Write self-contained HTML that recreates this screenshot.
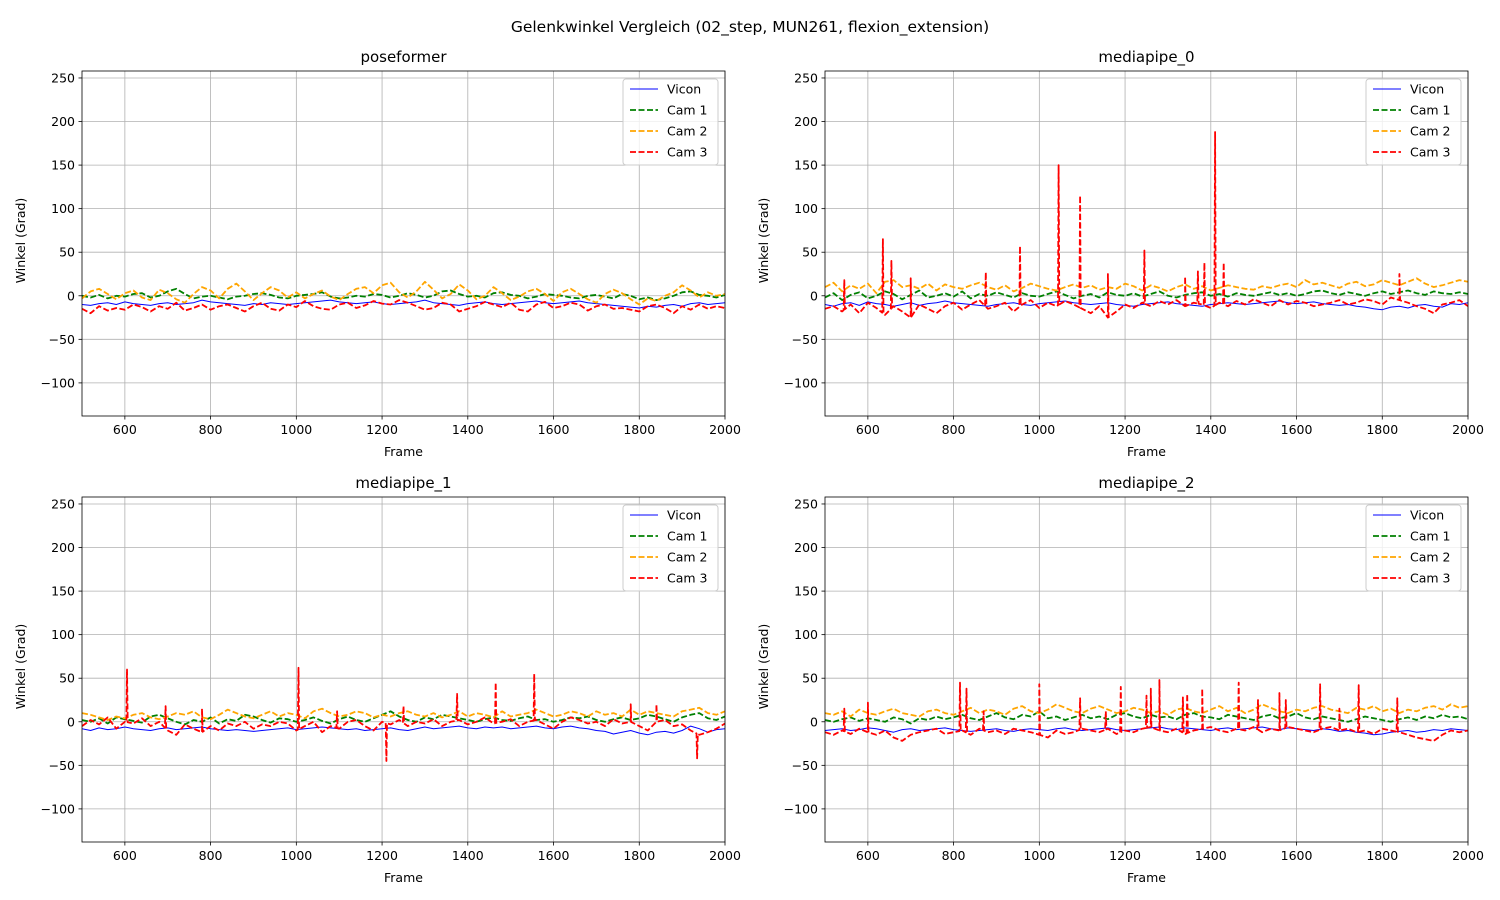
<!DOCTYPE html>
<html><head><meta charset="utf-8">
<style>
body{margin:0;background:#fff;}
svg{display:block;font-family:"DejaVu Sans","Liberation Sans",sans-serif;}
</style></head>
<body>
<svg id="fig" width="1500" height="900" viewBox="0 0 1500 900">
<rect width="1500" height="900" fill="#fff"/>
<text x="750" y="32" text-anchor="middle" font-size="15.5">Gelenkwinkel Vergleich (02_step, MUN261, flexion_extension)</text>
</svg>
<script>
const xTicks=[600,800,1000,1200,1400,1600,1800,2000];
const yTicks=[-100,-50,0,50,100,150,200,250];
const seriesNames=["Vicon","Cam 1","Cam 2","Cam 3"];
const seriesColors=["#0000ff","#008000","#ffa500","#ff0000"];
const panelTitles=["poseformer","mediapipe_0","mediapipe_1","mediapipe_2"];

const poseVicon=[-10,-11,-9,-8,-10,-7,-9,-10,-11,-9,-8,-10,-9,-8,-5,-7,-8,-9,-10,-11,-9,-10,-8,-9,-10,-9,-8,-7,-6,-5,-7,-8,-9,-8,-7,-9,-10,-9,-8,-7,-5,-8,-9,-10,-11,-9,-8,-7,-9,-10,-9,-8,-7,-6,-8,-9,-8,-7,-6,-8,-9,-10,-11,-12,-13,-14,-12,-13,-11,-10,-12,-9,-8,-10,-9,-8];
const poseCam1=[0,-2,1,-3,0,-1,2,3,-2,0,5,8,2,-3,-1,0,-2,-4,-1,0,2,3,1,-2,-3,0,1,2,4,-1,-3,-2,0,-1,2,1,-2,0,3,1,-2,0,5,6,2,-1,0,-2,3,4,1,0,-3,-1,2,1,0,-2,-3,0,1,-1,-3,2,0,-4,-2,-5,-3,0,4,5,1,0,-2,1];
const poseCam2=[-3,5,8,2,-4,3,6,-2,-5,7,3,-4,-8,2,10,6,-3,8,14,5,-5,3,10,6,-2,4,-3,2,6,-1,-5,2,8,10,3,12,15,4,-2,5,16,7,-3,2,13,6,-4,0,10,3,-5,-1,5,8,2,-6,4,8,2,-4,-8,2,7,3,-4,-10,-3,-6,0,4,12,6,-2,4,0,2];
const poseCam3=[-15,-20,-12,-17,-14,-16,-10,-13,-18,-12,-15,-8,-17,-14,-10,-16,-12,-10,-14,-18,-12,-8,-15,-17,-10,-13,-6,-12,-15,-16,-10,-8,-14,-11,-6,-9,-10,-5,-8,-12,-16,-14,-8,-10,-18,-15,-12,-7,-10,-13,-8,-16,-18,-10,-7,-14,-12,-8,-10,-17,-12,-10,-15,-14,-16,-18,-12,-10,-14,-20,-12,-16,-10,-15,-12,-14];

const mp0Vicon=[-10,-12,-9,-8,-11,-7,-9,-10,-12,-10,-8,-11,-9,-8,-6,-8,-9,-10,-11,-12,-10,-9,-8,-10,-11,-9,-8,-7,-6,-8,-9,-10,-9,-8,-10,-11,-12,-10,-9,-8,-7,-9,-10,-11,-12,-10,-9,-8,-9,-10,-9,-8,-7,-6,-8,-9,-8,-7,-9,-10,-11,-10,-12,-13,-15,-16,-13,-12,-14,-11,-10,-12,-13,-9,-10,-8];
const mp0Cam1=[-2,3,-5,1,4,-3,0,5,2,-4,1,6,-2,0,3,-1,5,-3,2,0,4,1,-2,3,0,-1,2,5,1,-3,0,2,-2,4,1,0,3,-1,2,5,0,-2,1,3,4,0,2,-1,3,1,0,2,4,1,3,0,2,5,6,3,1,4,2,0,3,5,2,4,6,3,1,5,3,2,4,2];
const mp0Cam2=[10,15,5,12,8,14,3,16,18,10,12,8,14,6,13,10,8,12,15,10,7,12,5,9,14,11,8,6,10,13,9,12,7,10,8,14,11,6,12,9,5,10,13,8,11,6,9,12,10,8,7,11,9,12,14,10,18,13,15,12,9,14,16,11,13,18,15,12,16,20,14,10,12,15,18,16];
const mp0Cam3=[-15,-12,-18,-10,-20,-8,-14,-22,-12,-18,-25,-10,-15,-20,-12,-8,-16,-10,-5,-15,-12,-8,-18,-10,-5,-14,-8,-12,-6,-10,-15,-20,-12,-25,-18,-10,-14,-8,-12,-6,-10,-5,-12,-8,-10,-14,-8,-12,-6,-10,-4,-8,-12,-5,-10,-6,-8,-12,-10,-8,-5,-10,-8,-4,-6,-10,-2,-5,-8,-12,-15,-20,-10,-8,-5,-12];
const mp0SpikeFrames=[545,635,655,700,875,955,1045,1095,1160,1245,1340,1370,1385,1410,1430,1840];
const mp0SpikeValues=[18,65,40,20,27,57,150,115,25,52,22,28,38,188,38,25];

const mp1Vicon=[-8,-10,-7,-9,-8,-6,-8,-9,-10,-8,-7,-9,-8,-7,-6,-8,-9,-10,-9,-10,-11,-10,-9,-8,-7,-9,-8,-7,-6,-7,-8,-9,-8,-10,-9,-8,-7,-9,-10,-8,-6,-8,-7,-6,-5,-7,-8,-6,-7,-6,-8,-7,-6,-5,-7,-8,-6,-5,-7,-8,-10,-11,-14,-12,-10,-13,-15,-12,-11,-13,-10,-5,-8,-12,-9,-8];
const mp1Cam1=[2,0,4,-2,5,3,1,-1,6,8,4,0,-3,2,0,5,-2,3,1,8,6,2,-1,4,3,0,2,5,1,-2,3,6,2,0,4,8,12,6,2,0,5,3,8,6,4,2,0,3,5,2,1,4,6,2,3,0,2,5,4,6,2,0,3,5,2,4,8,6,3,0,5,8,10,4,2,6];
const mp1Cam2=[10,8,5,2,6,4,8,10,5,3,6,10,8,12,5,3,8,14,10,6,4,8,12,6,10,8,4,12,15,10,6,8,12,10,5,8,6,10,12,8,6,10,5,8,12,6,10,8,5,12,6,8,10,14,10,6,8,12,10,6,12,8,10,6,14,8,12,10,8,6,12,14,16,10,8,12];
const mp1Cam3=[-5,2,-3,5,-8,0,-2,4,-5,0,-10,-15,-3,-8,-12,-5,-10,-2,-5,0,-8,-3,-5,0,-2,-10,-5,0,-12,-5,-8,0,2,-5,-10,0,-3,2,-5,0,-2,3,-5,0,2,-3,0,5,-2,0,3,-5,0,2,-3,-8,0,5,2,-2,0,-5,3,-2,0,-5,-10,0,2,-5,-3,-10,-15,-12,-8,-2];
const mp1SpikeFrames=[605,695,780,1005,1095,1210,1250,1375,1465,1555,1780,1840,1935];
const mp1SpikeValues=[60,18,15,62,12,-45,18,32,45,55,20,20,-42];

const mp2Vicon=[-10,-9,-8,-10,-9,-7,-8,-10,-12,-9,-8,-10,-9,-8,-7,-9,-10,-11,-10,-9,-8,-10,-11,-9,-8,-9,-10,-8,-7,-9,-10,-9,-8,-7,-9,-10,-9,-8,-7,-6,-8,-9,-7,-8,-9,-10,-8,-7,-9,-8,-7,-6,-8,-9,-7,-8,-9,-10,-8,-9,-11,-10,-12,-13,-15,-14,-12,-11,-10,-12,-11,-9,-10,-8,-9,-10];
const mp2Cam1=[2,0,3,5,1,4,2,0,5,3,-2,4,2,6,3,5,8,4,2,6,10,5,3,8,6,12,4,6,2,5,8,4,6,3,8,10,6,4,8,5,6,3,8,10,6,5,3,8,6,4,2,6,8,4,6,10,5,3,6,4,2,0,3,6,4,2,0,3,5,2,6,4,8,5,6,3];
const mp2Cam2=[10,8,12,6,14,10,8,12,15,10,8,6,12,14,10,8,12,16,10,14,12,8,15,18,12,10,14,20,16,12,10,15,18,14,10,12,16,14,10,12,8,14,16,12,10,14,18,12,16,10,14,20,16,12,10,14,12,16,18,14,12,10,16,14,18,12,15,10,14,12,16,18,14,20,16,18];
const mp2Cam3=[-12,-15,-10,-14,-8,-12,-15,-10,-18,-22,-15,-12,-10,-8,-14,-12,-10,-15,-8,-12,-10,-14,-8,-10,-12,-15,-18,-10,-14,-12,-8,-10,-12,-8,-14,-10,-12,-8,-6,-10,-12,-8,-14,-10,-8,-6,-10,-12,-8,-10,-6,-12,-8,-10,-6,-8,-10,-12,-8,-6,-10,-8,-12,-10,-14,-8,-10,-12,-15,-18,-20,-22,-15,-10,-12,-10];
const mp2SpikeFrames=[545,600,815,830,870,1000,1095,1155,1190,1250,1260,1280,1335,1345,1380,1465,1510,1560,1575,1655,1700,1745,1835];
const mp2SpikeValues=[15,22,45,38,12,43,27,12,40,30,38,48,28,32,38,45,25,33,25,43,15,42,27];

const panelData=[
 {series:[poseVicon,poseCam1,poseCam2,poseCam3],spF:[],spV:[]},
 {series:[mp0Vicon,mp0Cam1,mp0Cam2,mp0Cam3],spF:mp0SpikeFrames,spV:mp0SpikeValues},
 {series:[mp1Vicon,mp1Cam1,mp1Cam2,mp1Cam3],spF:mp1SpikeFrames,spV:mp1SpikeValues},
 {series:[mp2Vicon,mp2Cam1,mp2Cam2,mp2Cam3],spF:mp2SpikeFrames,spV:mp2SpikeValues}
];

const NS="http://www.w3.org/2000/svg";
const fig=document.getElementById('fig');
function mk(tag,attrs,parent){const e=document.createElementNS(NS,tag);for(const k in attrs)e.setAttribute(k,attrs[k]);(parent||fig).appendChild(e);return e;}
const XMIN=500,XMAX=2000,YMIN=-138,YMAX=258,PW=643,PH=345;
const origins=[[82,71],[825,71],[82,497],[825,497]];

panelData.forEach((pd,pi)=>{
 const [x0,y0]=origins[pi];
 const sx=v=>x0+(v-XMIN)/(XMAX-XMIN)*PW;
 const sy=v=>y0+(YMAX-v)/(YMAX-YMIN)*PH;
 const g=mk('g',{});
 
 
 const clipId='clip'+pi;
 const cp=mk('clipPath',{id:clipId},g);mk('rect',{x:x0,y:y0,width:PW,height:PH},cp);
 xTicks.forEach(t=>{const l=mk('line',{x1:sx(t),x2:sx(t),y1:y0,y2:y0+PH,stroke:'#b0b0b0','stroke-width':0.8},g);
  
  mk('line',{x1:sx(t),x2:sx(t),y1:y0+PH,y2:y0+PH+3.5,stroke:'#000','stroke-width':0.8},g);
  const tx=mk('text',{x:sx(t),y:y0+PH+18,'text-anchor':'middle','font-size':12.5},g);tx.textContent=t;
  });
 yTicks.forEach(t=>{const l=mk('line',{x1:x0,x2:x0+PW,y1:sy(t),y2:sy(t),stroke:'#b0b0b0','stroke-width':0.8},g);
  
  mk('line',{x1:x0-3.5,x2:x0,y1:sy(t),y2:sy(t),stroke:'#000','stroke-width':0.8},g);
  const tx=mk('text',{x:x0-7,y:sy(t)+4.5,'text-anchor':'end','font-size':12.5},g);tx.textContent=(t<0?'\u2212'+(-t):t);
  });
 pd.series.forEach((arr,si)=>{
  const n=arr.length;let pts=arr.map((v,i)=>[XMIN+i*(XMAX-XMIN)/(n-1),v]);
  if(si===3&&pd.spF.length){
   const base=f=>{const p=(f-XMIN)/(XMAX-XMIN)*(n-1);const i=Math.min(n-2,Math.floor(p));return arr[i]+(arr[i+1]-arr[i])*(p-i);};
   pd.spF.forEach((f,k)=>{pts.push([f-1.5,base(f-1.5)],[f,pd.spV[k]],[f+1.5,base(f+1.5)]);});
   pts.sort((a,b)=>a[0]-b[0]);
  }
  const d=pts.map((p,i)=>(i?'L':'M')+sx(p[0]).toFixed(1)+','+sy(p[1]).toFixed(1)).join('');
  const attrs={d:d,fill:'none',stroke:seriesColors[si],'stroke-width':si?1.8:1,'clip-path':'url(#'+clipId+')','stroke-linejoin':'round'};
  if(si)attrs['stroke-dasharray']='6,2.5';
  const p=mk('path',attrs,g);
  
  
 });
 const fr=mk('rect',{x:x0,y:y0,width:PW,height:PH,fill:'none',stroke:'#000','stroke-width':0.8},g);
 
 const tt=mk('text',{x:x0+PW/2,y:y0-9,'text-anchor':'middle','font-size':15},g);tt.textContent=panelTitles[pi];
 
 const xl=mk('text',{x:x0+PW/2,y:y0+PH+40,'text-anchor':'middle','font-size':12.5},g);xl.textContent='Frame';
 
 const yl=mk('text',{x:0,y:0,'text-anchor':'middle','font-size':12.5,transform:'translate('+(x0-57)+','+(y0+PH/2-3)+') rotate(-90)'},g);yl.textContent='Winkel (Grad)';
 
 const lg=mk('g',{},g);
 
 const lx=x0+PW-102,ly=y0+8;
 mk('rect',{x:lx,y:ly,width:95,height:86,rx:3,fill:'#fff','fill-opacity':0.8,stroke:'#ccc','stroke-width':1},lg);
 seriesNames.forEach((nm,si)=>{
  const yy=ly+10+si*21;
  const la={x1:lx+7,x2:lx+35,y1:yy,y2:yy,stroke:seriesColors[si],'stroke-width':si?1.8:1};
  if(si)la['stroke-dasharray']='6,2.5';
  mk('line',la,lg);
  const t=mk('text',{x:lx+44,y:yy+4.5,'font-size':12.5},lg);t.textContent=nm;
  
 });
});
</script>
</body></html>
